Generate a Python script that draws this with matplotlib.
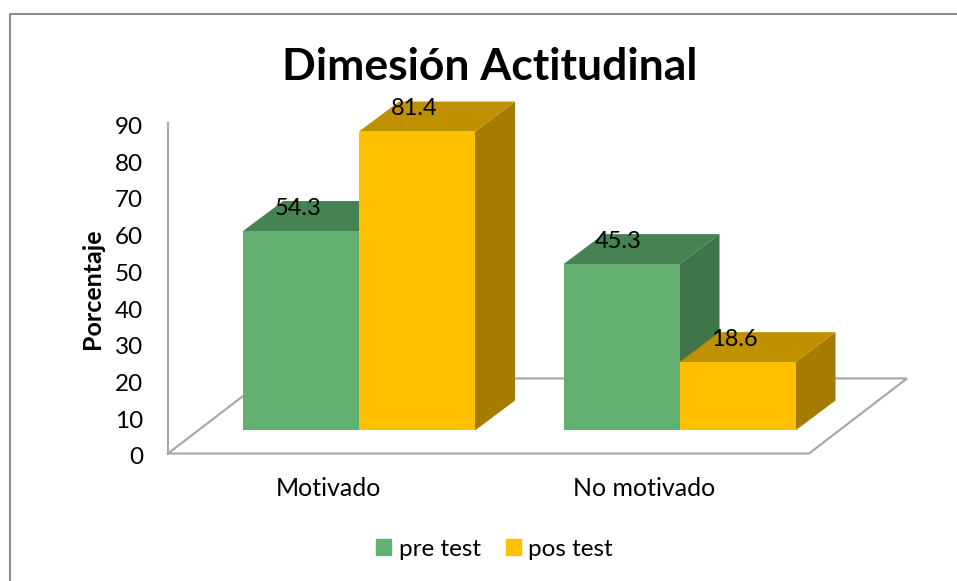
import matplotlib
matplotlib.use("Agg")
import matplotlib.pyplot as plt
from matplotlib.patches import Polygon, Rectangle
from matplotlib.lines import Line2D
from matplotlib.transforms import ScaledTranslation

plt.rcParams['font.family'] = ['Lato', 'DejaVu Sans']

categories = ["Motivado", "No motivado"]
series_names = ["pre test", "pos test"]
pre_test = [54.3, 45.3]
pos_test = [81.4, 18.6]
y_ticks = list(range(0, 100, 10))
title = "Dimesión Actitudinal"
y_label = "Porcentaje"

W, H = 957, 581
PX_X = 320.5     # pixels per category
PX_Y = 3.67      # pixels per percent

fig = plt.figure(figsize=(W / 100, H / 100), dpi=100, facecolor="white")
L, R, T, B = 168, 908, 123, 453.5
ax = fig.add_axes([L / W, 1 - B / H, (R - L) / W, (B - T) / H])
ax.set_xlim(0, (R - L) / PX_X)
ax.set_ylim(0, 90)
ax.patch.set_alpha(0)

dx = 40 / PX_X     # bar depth
dy = 30 / PX_Y
base = 23 / PX_Y   # bars stand on the floor, in front of the back wall
bw = 116 / PX_X
start = 75 / PX_X  # first bar offset inside a category

grid = "#a6a6a6"
# floor
fdx, fdy = 98 / PX_X, 75 / PX_Y
ax.plot([0, fdx, 2 + fdx, 2, 0], [0, fdy, fdy, 0, 0], color=grid, lw=1.5,
        clip_on=False, zorder=1, solid_joinstyle="miter")

colors = {"pre test": ("#62AF6F", "#478252", "#3F7549"),
          "pos test": ("#FFC000", "#BF9000", "#A67C00")}

def bar3d(x, v, cols, z):
    front, top, side = cols
    t = base + v
    ax.add_patch(Polygon([(x + bw, base), (x + bw + dx, base + dy), (x + bw + dx, t + dy), (x + bw, t)],
                         facecolor=side, edgecolor="none", zorder=z, clip_on=False))
    ax.add_patch(Polygon([(x, t), (x + dx, t + dy), (x + bw + dx, t + dy), (x + bw, t)],
                         facecolor=top, edgecolor="none", zorder=z, clip_on=False))
    ax.bar(x, v, bw, bottom=base, align="edge", color=front, zorder=z + 0.1, clip_on=False)

for i in range(len(categories)):
    x0 = i + start
    bar3d(x0, pre_test[i], colors["pre test"], 3)
    bar3d(x0 + bw, pos_test[i], colors["pos test"], 4)
    ax.text(x0 + 0.5 * bw + 0.5 * dx - 23 / PX_X, base + pre_test[i] + dy - 2.0, f"{pre_test[i]:.1f}",
            ha="center", va="center", fontsize=17, color="black", zorder=6)
    ax.text(x0 + 1.5 * bw + 0.5 * dx - 23 / PX_X, base + pos_test[i] + dy - 2.0, f"{pos_test[i]:.1f}",
            ha="center", va="center", fontsize=17, color="black", zorder=6)

for s in ("top", "right", "bottom"):
    ax.spines[s].set_visible(False)
ax.spines["left"].set_color(grid)
ax.spines["left"].set_linewidth(1.5)
ax.set_yticks(y_ticks)
ax.set_yticklabels([str(t) for t in y_ticks], fontsize=17.5)
ax.tick_params(axis="y", length=0, pad=18)
for lbl in ax.get_yticklabels():
    lbl.set_transform(lbl.get_transform() + ScaledTranslation(0, -2.5 / 100, fig.dpi_scale_trans))
ax.set_xticks([0.5, 1.5 - 5 / PX_X])
ax.set_xticklabels(categories, fontsize=18)
ax.tick_params(axis="x", length=0, pad=17)

fig.text(490 / W, 1 - 67 / H, title, ha="center", va="center", fontsize=32, fontweight="bold")
fig.text(92 / W, 1 - 289 / H, y_label, rotation=90, ha="center", va="center",
         fontsize=18, fontweight="bold")

# legend
handles = [Rectangle((0, 0), 1, 1, color=colors[n][0]) for n in series_names]
fig.legend(handles, series_names, loc="center", bbox_to_anchor=(494.5 / W, 1 - 549 / H),
           ncol=2, frameon=False, fontsize=17.5, handlelength=0.62, handleheight=0.62,
           handletextpad=0.3, columnspacing=1.03)

# chart border
fig.add_artist(Line2D([9.5 / W, 9.5 / W, 1], [0, 1 - 13.5 / H, 1 - 13.5 / H],
                      color="#8c8c8c", lw=1.5))

fig.savefig("out.png", dpi=100)
